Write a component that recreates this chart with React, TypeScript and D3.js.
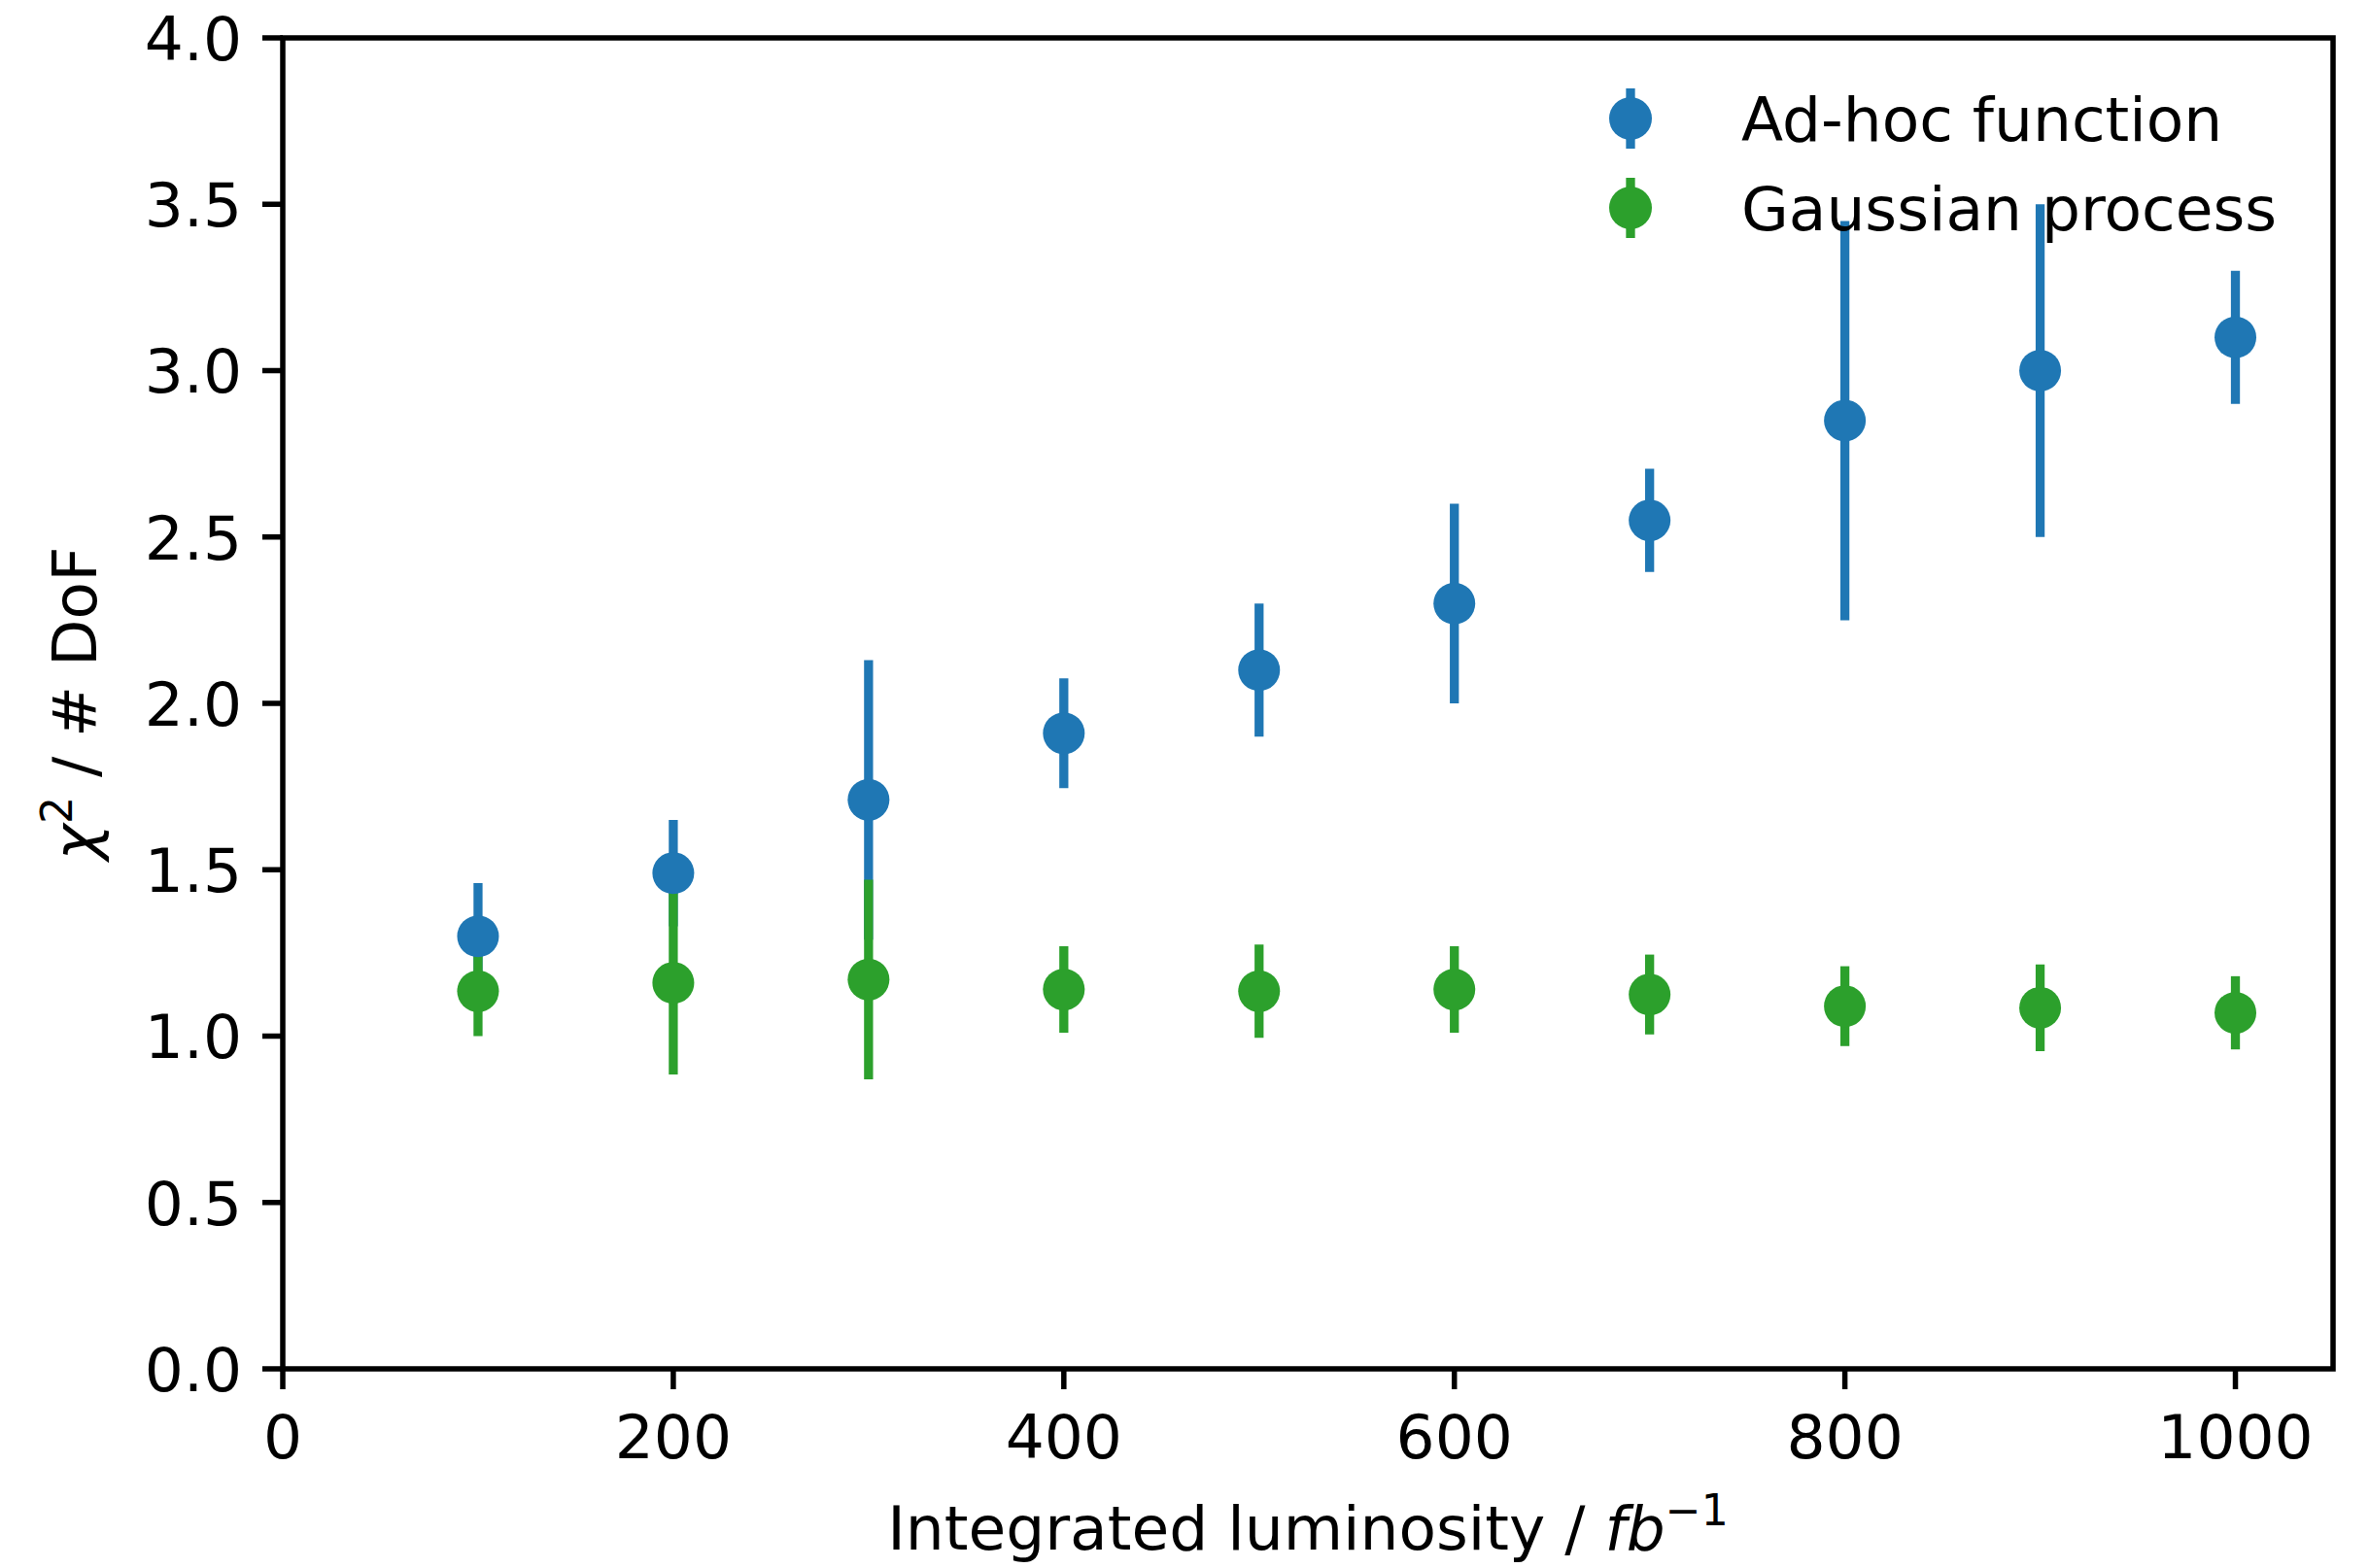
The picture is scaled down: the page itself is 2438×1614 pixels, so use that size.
import React from "react";
import * as d3 from "d3";

const lumi = [100, 200, 300, 400, 500, 600, 700, 800, 900, 1000];
const adhocVal = [1.30, 1.49, 1.71, 1.91, 2.10, 2.30, 2.55, 2.85, 3.00, 3.10];
const adhocErr = [0.16, 0.16, 0.42, 0.165, 0.20, 0.30, 0.155, 0.60, 0.50, 0.20];
const gpVal = [1.135, 1.16, 1.17, 1.14, 1.135, 1.14, 1.125, 1.09, 1.085, 1.07];
const gpErr = [0.135, 0.275, 0.30, 0.13, 0.14, 0.13, 0.12, 0.12, 0.13, 0.11];
const xTicks = [0, 200, 400, 600, 800, 1000];
const yTicks = [0, 0.5, 1, 1.5, 2, 2.5, 3, 3.5, 4];
const seriesNames = ["Ad-hoc function", "Gaussian process"];
const seriesColors = ["#1f77b4", "#2ca02c"];

const W = 2438;
const H = 1614;
const M = { left: 291, right: 2401, top: 39, bottom: 1409 };
const FS = 63;
const FONT = "DejaVu Sans, sans-serif";

export default function App() {
  const x = d3.scaleLinear().domain([0, 1050]).range([M.left, M.right]);
  const y = d3.scaleLinear().domain([0, 4]).range([M.bottom, M.top]);
  const series = [
    { vals: adhocVal, errs: adhocErr, color: seriesColors[0] },
    { vals: gpVal, errs: gpErr, color: seriesColors[1] },
  ];
  const tickLen = 21;
  const r = 21.5;
  const barW = 9.3;

  return (
    <svg
      width={W}
      height={H}
      style={{ position: "absolute", left: 0, top: 0, background: "#fff" }}
      fontFamily={FONT}
    >
      <rect x={0} y={0} width={W} height={H} fill="#fff" />
      {series.map((s, si) => (
        <g key={"bars" + si}>
          {lumi.map((l, i) => (
            <line
              key={i}
              x1={x(l)}
              x2={x(l)}
              y1={y(s.vals[i] - s.errs[i])}
              y2={y(s.vals[i] + s.errs[i])}
              stroke={s.color}
              strokeWidth={barW}
              strokeLinecap="butt"
            />
          ))}
        </g>
      ))}
      {series.map((s, si) => (
        <g key={"pts" + si}>
          {lumi.map((l, i) => (
            <circle key={i} cx={x(l)} cy={y(s.vals[i])} r={r} fill={s.color} />
          ))}
        </g>
      ))}
      <rect
        x={M.left}
        y={M.top}
        width={M.right - M.left}
        height={M.bottom - M.top}
        fill="none"
        stroke="#000"
        strokeWidth={5.5}
        strokeLinejoin="miter"
      />
      {xTicks.map((t) => (
        <g key={"xt" + t}>
          <line
            x1={x(t)}
            x2={x(t)}
            y1={M.bottom}
            y2={M.bottom + tickLen}
            stroke="#000"
            strokeWidth={5.5}
          />
          <text x={x(t)} y={1501} fontSize={FS} textAnchor="middle" fill="#000">
            {t}
          </text>
        </g>
      ))}
      {yTicks.map((t) => (
        <g key={"yt" + t}>
          <line
            x1={M.left - tickLen}
            x2={M.left}
            y1={y(t)}
            y2={y(t)}
            stroke="#000"
            strokeWidth={5.5}
          />
          <text
            x={M.left - tickLen - 21}
            y={y(t) + 0.364 * FS}
            fontSize={FS}
            textAnchor="end"
            fill="#000"
          >
            {t.toFixed(1)}
          </text>
        </g>
      ))}
      <text x={(M.left + M.right) / 2} y={1595} fontSize={FS} textAnchor="middle" fill="#000">
        <tspan>Integrated luminosity / </tspan>
        <tspan fontStyle="italic">fb</tspan>
        <tspan fontSize={FS * 0.7} dy={-FS * 0.4}>
          −1
        </tspan>
      </text>
      <text
        transform={`translate(99, ${(M.top + M.bottom) / 2}) rotate(-90)`}
        fontSize={FS}
        textAnchor="middle"
        fill="#000"
      >
        <tspan fontStyle="italic">χ</tspan>
        <tspan fontSize={FS * 0.7} dy={-FS * 0.4}>
          2
        </tspan>
        <tspan dy={FS * 0.4}> / # DoF</tspan>
      </text>
      {seriesNames.map((n, i) => {
        const ly = 122 + i * 92;
        const lx = 1678;
        return (
          <g key={"lg" + i}>
            <line
              x1={lx}
              x2={lx}
              y1={ly - 31}
              y2={ly + 31}
              stroke={seriesColors[i]}
              strokeWidth={barW}
            />
            <circle cx={lx} cy={ly} r={22} fill={seriesColors[i]} />
            <text x={1792} y={ly + 0.364 * FS} fontSize={FS} fill="#000">
              {n}
            </text>
          </g>
        );
      })}
    </svg>
  );
}
